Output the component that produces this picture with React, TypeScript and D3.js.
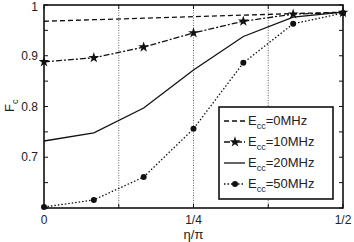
import React from "react";
import * as d3 from "d3";

const xs = [0, 1 / 12, 2 / 12, 3 / 12, 4 / 12, 5 / 12, 6 / 12];
const e0 = [0.968, 0.971, 0.974, 0.977, 0.980, 0.983, 0.986];
const e10 = [0.888, 0.896, 0.917, 0.945, 0.968, 0.982, 0.985];
const e20 = [0.732, 0.748, 0.797, 0.872, 0.938, 0.976, 0.986];
const e50 = [0.602, 0.616, 0.661, 0.756, 0.886, 0.963, 0.984];
const seriesNames = ["0MHz", "10MHz", "20MHz", "50MHz"];
const xTicks = [0, 1 / 8, 1 / 4, 3 / 8, 1 / 2];
const xTickLabels = ["0", "", "1/4", "", "1/2"];
const xGrid = [1 / 8, 1 / 4, 3 / 8];
const yTicks = [0.6, 0.65, 0.7, 0.75, 0.8, 0.85, 0.9, 0.95, 1];
const yTickLabels = ["", "", "0.7", "", "0.8", "", "0.9", "", "1"];

const W = 354, H = 242;
const L = 44, R = 343, T = 5, B = 208;

const x = d3.scaleLinear().domain([0, 0.5]).range([L, R]);
const y = d3.scaleLinear().domain([0.6, 1]).range([B, T]);

const styles = [
  { dash: "5,3", marker: "none" },
  { dash: "6,2,2,2", marker: "star" },
  { dash: "none", marker: "none" },
  { dash: "1.5,2", marker: "dot" },
];

const allSeries = [e0, e10, e20, e50];

const line = d3.line<number>().x((_, i) => x(xs[i])).y((d) => y(d));
const star = d3.symbol().type(d3.symbolStar).size(36)();

function Marker({ kind, cx, cy }: { kind: string; cx: number; cy: number }) {
  if (kind === "star") return <path d={star!} transform={`translate(${cx},${cy})`} fill="#111" />;
  if (kind === "dot") return <circle cx={cx} cy={cy} r={3} fill="#111" />;
  return null;
}

export default function App() {
  const font = "'Liberation Sans', Arial, sans-serif";
  const lx = 219, ly = 107, lw = 114, lh = 92;
  return (
    <svg width={W} height={H} style={{ position: "absolute", left: 0, top: 0 }} fontFamily={font}>
      <rect width={W} height={H} fill="#fff" />
      {xGrid.map((g, i) => (
        <line key={i} x1={x(g)} x2={x(g)} y1={T} y2={B} stroke="#666" strokeWidth={1} strokeDasharray="1,1.5" />
      ))}
      {allSeries.map((s, k) => (
        <g key={k}>
          <path d={line(s)!} fill="none" stroke="#111" strokeWidth={1.3}
            strokeDasharray={styles[k].dash === "none" ? undefined : styles[k].dash} />
          {s.map((v, i) => (
            <Marker key={i} kind={styles[k].marker} cx={x(xs[i])} cy={y(v)} />
          ))}
        </g>
      ))}
      {xTicks.map((t, i) => (
        <g key={i}>
          <line x1={x(t)} x2={x(t)} y1={B} y2={B - 4} stroke="#111" />
          <line x1={x(t)} x2={x(t)} y1={T} y2={T + 4} stroke="#111" />
          <text x={x(t)} y={224} textAnchor="middle" fontSize={12} fill="#222">{xTickLabels[i]}</text>
        </g>
      ))}
      {yTicks.map((t, i) => (
        <g key={i}>
          <line x1={L} x2={L + 4} y1={y(t)} y2={y(t)} stroke="#111" />
          <line x1={R} x2={R - 4} y1={y(t)} y2={y(t)} stroke="#111" />
          <text x={38} y={Math.max(y(t) + 4, 11)} textAnchor="end" fontSize={12} fill="#222">{yTickLabels[i]}</text>
        </g>
      ))}
      <rect x={L} y={T} width={R - L} height={B - T} fill="none" stroke="#111" strokeWidth={1.6} />
      <rect x={lx} y={ly} width={lw} height={lh} fill="#fff" stroke="#111" strokeWidth={1.6} />
      {seriesNames.map((n, k) => {
        const yy = ly + 14 + k * 21;
        return (
          <g key={k}>
            <line x1={lx + 5} x2={lx + 26} y1={yy} y2={yy} stroke="#111" strokeWidth={1.3}
              strokeDasharray={styles[k].dash === "none" ? undefined : styles[k].dash} />
            <Marker kind={styles[k].marker} cx={lx + 16} cy={yy} />
            <text x={lx + 29} y={yy + 4} fontSize={13} fill="#222">
              E<tspan fontSize={9} dy={4}>cc</tspan><tspan dy={-4}>={n}</tspan>
            </text>
          </g>
        );
      })}
      <text x={x(0.25)} y={239} textAnchor="middle" fontSize={13} fill="#222">η/π</text>
      <text transform="translate(14,112) rotate(-90)" fontSize={13} fill="#222">
        F<tspan fontSize={9} dy={4}>c</tspan>
      </text>
    </svg>
  );
}
